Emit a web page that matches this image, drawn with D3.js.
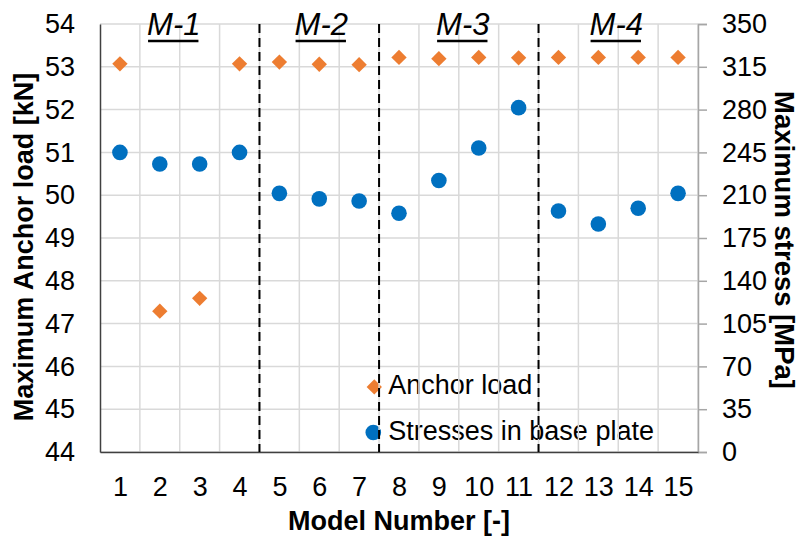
<!DOCTYPE html>
<html>
<head>
<meta charset="utf-8">
<script src="https://cdn.jsdelivr.net/npm/d3@7"></script>
<style>
  body { margin: 0; background: #fff; }
  text { font-family: "Liberation Sans", Arial, sans-serif; }
</style>
</head>
<body>
<svg width="804" height="539"></svg>
<script>
var models = [1, 2, 3, 4, 5, 6, 7, 8, 9, 10, 11, 12, 13, 14, 15];
var anchorLoad = [53.07, 47.29, 47.59, 53.07, 53.11, 53.06, 53.05, 53.22, 53.19, 53.22, 53.21, 53.22, 53.22, 53.22, 53.22];
var plateStress = [245, 235.5, 235.5, 245, 211.5, 207, 205.3, 195.2, 222, 248.6, 281.6, 197.1, 186.4, 199.3, 211.5];
var leftTicks = [44, 45, 46, 47, 48, 49, 50, 51, 52, 53, 54];
var rightTicks = [0, 35, 70, 105, 140, 175, 210, 245, 280, 315, 350];
var groupBreaks = [4.5, 7.5, 11.5];
var groupNames = ['M-1', 'M-2', 'M-3', 'M-4'];
var groupLabelAt = [2.35, 6.05, 9.6, 13.45];
var seriesNames = ['Anchor load', 'Stresses in base plate'];

var svg = d3.select('svg');
var width = 804, height = 539;
var margin = { top: 24, right: 106, bottom: 87, left: 100 };
var innerWidth = width - margin.left - margin.right;
var innerHeight = height - margin.top - margin.bottom;

var x = d3.scaleLinear().domain([0.5, 15.5]).range([0, innerWidth]);
var yL = d3.scaleLinear().domain([44, 54]).range([innerHeight, 0]);
var yR = d3.scaleLinear().domain([0, 350]).range([innerHeight, 0]);

var g = svg.append('g')
    .attr('transform', `translate(${margin.left},${margin.top})`);

var diamond = d3.symbol().type(d3.symbolDiamond2).size(150);

// legend (drawn first, grid shows through it like in the original)
var legend = g.append('g').attr('transform', `translate(${x(7.38)},${yL(45.52)})`);
legend.append('path').attr('d', diamond).attr('fill', '#ED7D31');
legend.append('circle').attr('cx', -1).attr('cy', 45.5).attr('r', 7.8).attr('fill', '#0070C0');
legend.selectAll('text').data(seriesNames)
  .enter().append('text')
    .attr('x', 14).attr('y', (d, i) => i * 45.5 + 7.5)
    .attr('font-size', 27).attr('fill', '#000')
    .text(d => d);

// grid
g.selectAll('.hgrid').data(leftTicks)
  .enter().append('line')
    .attr('x1', 0).attr('x2', innerWidth)
    .attr('y1', d => yL(d)).attr('y2', d => yL(d))
    .attr('stroke', '#d9d9d9').attr('stroke-width', 1.5);

g.selectAll('.vgrid').data(d3.range(1, 16).map(d => d + 0.5))
  .enter().append('line')
    .attr('x1', d => x(d)).attr('x2', d => x(d))
    .attr('y1', 0).attr('y2', innerHeight)
    .attr('stroke', '#d9d9d9').attr('stroke-width', 1.5);

// axes
var leftAxis = d3.axisLeft(yL).tickValues(leftTicks).tickSize(0).tickPadding(25);
var gl = g.append('g').call(leftAxis);
gl.select('.domain').attr('stroke', '#404040').attr('stroke-width', 1.5);

var rightAxis = d3.axisRight(yR).tickValues(rightTicks).tickSize(9).tickPadding(15);
var gr = g.append('g').attr('transform', `translate(${innerWidth},0)`).call(rightAxis);
gr.select('.domain').attr('stroke', '#a6a6a6').attr('stroke-width', 1.5);
gr.selectAll('.tick line').attr('stroke', '#a6a6a6').attr('stroke-width', 1.5);

var bottomAxis = d3.axisBottom(x).tickValues(models).tickSize(0).tickPadding(25);
var gb = g.append('g').attr('transform', `translate(0,${innerHeight})`).call(bottomAxis);
gb.select('.domain').attr('stroke', '#404040').attr('stroke-width', 1.5);

svg.selectAll('.tick text')
  .attr('font-family', '"Liberation Sans", Arial, sans-serif')
  .attr('font-size', 27).attr('fill', '#000');

// group separators
g.selectAll('.sep').data(groupBreaks)
  .enter().append('line')
    .attr('x1', d => x(d)).attr('x2', d => x(d))
    .attr('y1', 0).attr('y2', innerHeight)
    .attr('stroke', '#000').attr('stroke-width', 2)
    .attr('stroke-dasharray', '9,5');

// group labels
var gLab = g.selectAll('.glab').data(groupNames)
  .enter().append('g')
    .attr('transform', (d, i) => `translate(${x(groupLabelAt[i])},11)`);
gLab.append('text')
    .attr('text-anchor', 'middle')
    .attr('font-size', 31).attr('font-style', 'italic')
    .text(d => d);
gLab.each(function() {
  var t = d3.select(this).select('text').node().getBBox();
  d3.select(this).append('line')
    .attr('x1', t.x + 1).attr('x2', t.x + t.width - 2)
    .attr('y1', 6).attr('y2', 6)
    .attr('stroke', '#000').attr('stroke-width', 2.5);
});

// series
g.selectAll('.anchor').data(models)
  .enter().append('path')
    .attr('d', diamond)
    .attr('transform', (d, i) => `translate(${x(d)},${yL(anchorLoad[i])})`)
    .attr('fill', '#ED7D31');

g.selectAll('.stress').data(models)
  .enter().append('circle')
    .attr('cx', d => x(d))
    .attr('cy', (d, i) => yR(plateStress[i]))
    .attr('r', 7.8)
    .attr('fill', '#0070C0');

// axis titles
svg.append('text')
  .attr('transform', 'translate(33,247) rotate(-90)')
  .attr('text-anchor', 'middle').attr('font-size', 27).attr('font-weight', 'bold')
  .text('Maximum Anchor load [kN]');
svg.append('text')
  .attr('transform', 'translate(775,240) rotate(90)')
  .attr('text-anchor', 'middle').attr('font-size', 27.5).attr('font-weight', 'bold')
  .text('Maximum stress [MPa]');
svg.append('text')
  .attr('x', 399).attr('y', 530)
  .attr('text-anchor', 'middle').attr('font-size', 27).attr('font-weight', 'bold')
  .text('Model Number [-]');
</script>
</body>
</html>
